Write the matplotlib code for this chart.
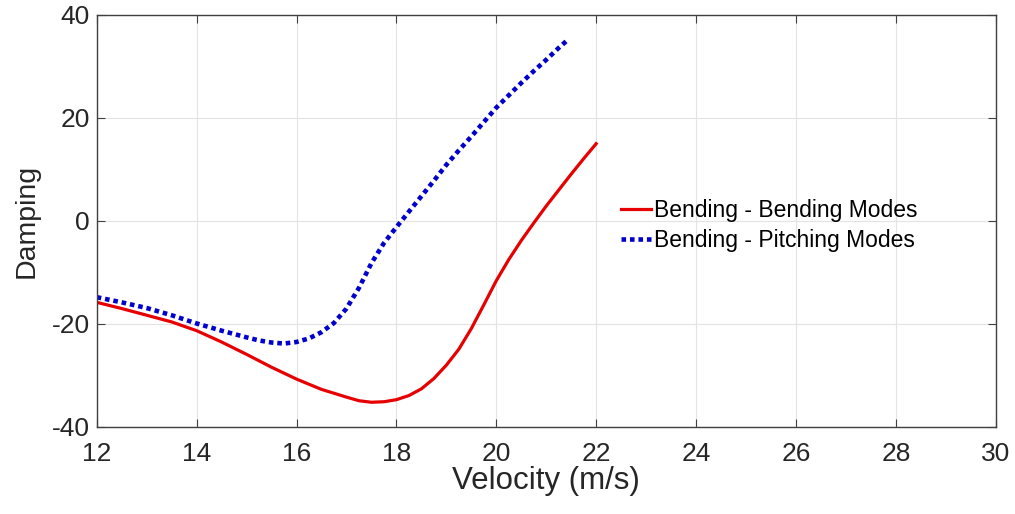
import matplotlib
matplotlib.use('Agg')
import matplotlib.pyplot as plt

# values
bend_v = [12.0, 12.5, 13.0, 13.5, 14.0, 14.5, 15.0, 15.5, 16.0, 16.5,
          17.0, 17.25, 17.5, 17.75, 18.0, 18.25, 18.5, 18.75, 19.0, 19.25,
          19.5, 19.75, 20.0, 20.25, 20.5, 20.75, 21.0, 21.25, 21.5, 21.75,
          22.0]
bend_d = [-15.8, -17.0, -18.3, -19.6, -21.3, -23.5, -25.9, -28.4, -30.7, -32.7,
          -34.2, -34.9, -35.2, -35.1, -34.7, -33.9, -32.6, -30.6, -28.0, -24.9,
          -20.9, -16.3, -11.6, -7.5, -3.8, -0.4, 2.9, 6.0, 9.1, 12.1,
          15.0]

pitch_v = [12.0, 12.5, 13.0, 13.5, 14.0, 14.5, 15.0, 15.25, 15.5, 15.75,
           16.0, 16.25, 16.5, 16.75, 17.0, 17.25, 17.5, 17.75, 18.0, 18.25,
           18.5, 18.75, 19.0, 19.25, 19.5, 19.75, 20.0, 20.25, 20.5, 20.75,
           21.0, 21.25, 21.4]
pitch_d = [-14.8, -15.8, -16.9, -18.3, -19.9, -21.3, -22.6, -23.2, -23.6, -23.8,
           -23.5, -22.8, -21.6, -19.8, -17.0, -13.0, -8.2, -4.3, -1.2, 1.8,
           4.8, 7.8, 10.9, 13.7, 16.4, 19.2, 22.0, 24.4, 26.8, 29.1,
           31.3, 33.6, 34.9]

xticks = [12, 14, 16, 18, 20, 22, 24, 26, 28, 30]
yticks = [-40, -20, 0, 20, 40]

plt.rcParams['font.family'] = ['Liberation Sans', 'DejaVu Sans']
plt.rcParams['axes.unicode_minus'] = False
txt = '#262626'

fig = plt.figure(figsize=(10.15, 5.14), dpi=100)
ax = fig.add_axes([0.0953, 0.1693, 0.8857, 0.8016])

ax.plot(bend_v, bend_d, color='#e60000', lw=2.3,
        label='Bending - Bending Modes')
ax.plot(pitch_v, pitch_d, color='#0000cc', lw=3.3, linestyle=(0, (1, 0.85)),
        dash_capstyle='butt', label='Bending - Pitching Modes')

ax.set_xlim(12, 30)
ax.set_ylim(-40, 40)
ax.set_xticks(xticks)
ax.set_yticks(yticks)
ax.grid(True, color='#e3e3e3', lw=0.8)
ax.set_axisbelow(True)

for sp in ax.spines.values():
    sp.set_color('#404040')
    sp.set_linewidth(1.0)
ax.tick_params(direction='in', length=6, width=0.8, color='#404040',
               top=True, right=True, labelsize=19, labelcolor=txt)
ax.tick_params(axis='x', pad=11)
ax.tick_params(axis='y', pad=5)

ax.set_xlabel('Velocity (m/s)', fontsize=22.5, color=txt, labelpad=0)
ax.set_ylabel('Damping', fontsize=20.5, color=txt, labelpad=9)

leg = ax.legend(loc='center left', bbox_to_anchor=(0.583, 0.488),
                frameon=False, fontsize=16.5, handlelength=1.3,
                handletextpad=0.15, labelspacing=0.3, borderpad=0,
                borderaxespad=0)
for t in leg.get_texts():
    t.set_color('black')

fig.savefig('out.png', dpi=100)
